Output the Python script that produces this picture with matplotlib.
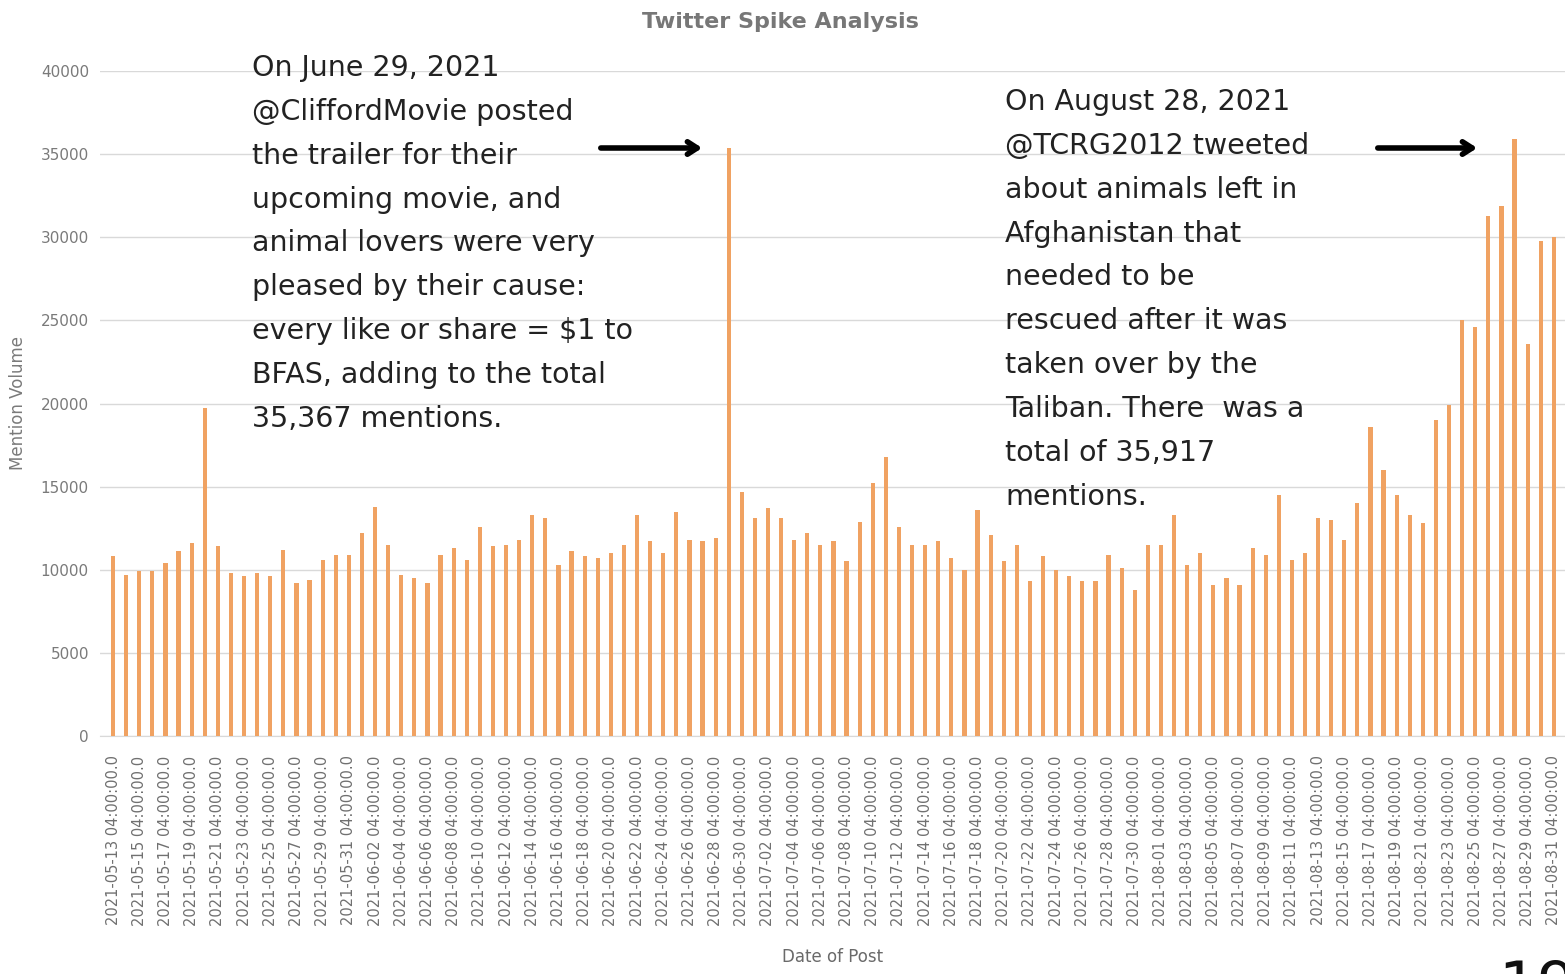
import matplotlib.pyplot as plt
import numpy as np
from datetime import date, timedelta

# daily mention volume, 2021-05-13 .. 2021-08-31
may = [10800, 9700, 9900, 9900, 10400, 11100, 11600, 19700, 11400, 9800,
       9600, 9800, 9600, 11200, 9200, 9400, 10600, 10900, 10900]
june = [12200, 13800, 11500, 9700, 9500, 9200, 10900, 11300, 10600, 12600,
        11400, 11500, 11800, 13300, 13100, 10300, 11100, 10800, 10700, 11000,
        11500, 13300, 11700, 11000, 13500, 11800, 11700, 11900, 35367, 14700]
july = [13100, 13700, 13100, 11800, 12200, 11500, 11700, 10500, 12900, 15200,
        16800, 12600, 11500, 11500, 11700, 10700, 10000, 13600, 12100, 10500,
        11500, 9300, 10800, 10000, 9600, 9300, 9300, 10900, 10100, 8800, 11500]
august = [13300, 10300, 11000, 9100, 9500, 9100, 11300, 10900, 14500, 10600,
          11000, 13100, 13000, 11800, 14000, 18600, 16000, 14500, 13300, 12800,
          19000, 19900, 25000, 24600, 31300, 31900, 35917, 23600, 29800, 30000]
august = [11500] + august  # Aug 1

volume = may + june + july + august
start = date(2021, 5, 13)
dates = [start + timedelta(days=i) for i in range(len(volume))]
labels = [d.strftime('%Y-%m-%d') + ' 04:00:00.0' for d in dates]

note_june = ("On June 29, 2021\n@CliffordMovie posted\nthe trailer for their\n"
             "upcoming movie, and\nanimal lovers were very\npleased by their cause:\n"
             "every like or share = \\$1 to\nBFAS, adding to the total\n35,367 mentions.")
note_aug = ("On August 28, 2021\n@TCRG2012 tweeted\nabout animals left in\n"
            "Afghanistan that\nneeded to be\nrescued after it was\ntaken over by the\n"
            "Taliban. There  was a\ntotal of 35,917\nmentions.")

W, H = 1565, 974
fig = plt.figure(figsize=(W / 100, H / 100), dpi=100)
fig.patch.set_facecolor('white')
ax = fig.add_axes([100 / W, 1 - 736 / H, 1465 / W, 665 / H])

x = np.arange(len(volume))
ax.bar(x, volume, width=0.32, color='#F0A262', zorder=3)

ax.set_xlim(-1, 110.85)
ax.set_ylim(0, 40000)
ax.set_yticks(np.arange(0, 40001, 5000))
ax.set_xticks(x[::2])
ax.set_xticklabels(labels[::2], rotation=90, fontsize=10.5, color='#707070')
ax.tick_params(axis='y', labelsize=11, colors='#7a7a7a', length=0, pad=8)
ax.tick_params(axis='x', length=0, pad=14)
ax.grid(axis='y', color='#d9d9d9', linewidth=1, zorder=0)
for s in ['top', 'right', 'left']:
    ax.spines[s].set_visible(False)
ax.spines['bottom'].set_color('#d9d9d9')

ax.set_ylabel('Mention Volume', fontsize=12, color='#7a7a7a', labelpad=10)
ax.set_xlabel('Date of Post', fontsize=12, color='#6a6a6a', labelpad=16)
fig.text(780 / W, 1 - 22 / H, 'Twitter Spike Analysis', ha='center', va='center',
         fontsize=16, color='#777777', fontweight='bold')

# callout texts
fig.text(252 / W, 1 - 54 / H, note_june, ha='left', va='top', fontsize=20.5,
         family='DejaVu Sans', color='#222222', linespacing=1.72)
fig.text(1005 / W, 1 - 88 / H, note_aug, ha='left', va='top', fontsize=20.5,
         family='DejaVu Sans', color='#222222', linespacing=1.72)

arrow = dict(arrowstyle='->,head_length=0.7,head_width=0.45', color='black',
             lw=4, capstyle='round')
ax.annotate('', xy=(705 / W, 1 - 148 / H), xytext=(598 / W, 1 - 148 / H),
            xycoords='figure fraction', arrowprops=arrow)
ax.annotate('', xy=(1480 / W, 1 - 148 / H), xytext=(1375 / W, 1 - 148 / H),
            xycoords='figure fraction', arrowprops=arrow)

# page number, mostly below the page edge
fig.text(1498 / W, -0.045, '19', ha='left', va='bottom', fontsize=44,
         color='#111111')

fig.savefig('out.png', dpi=100, facecolor='white')
